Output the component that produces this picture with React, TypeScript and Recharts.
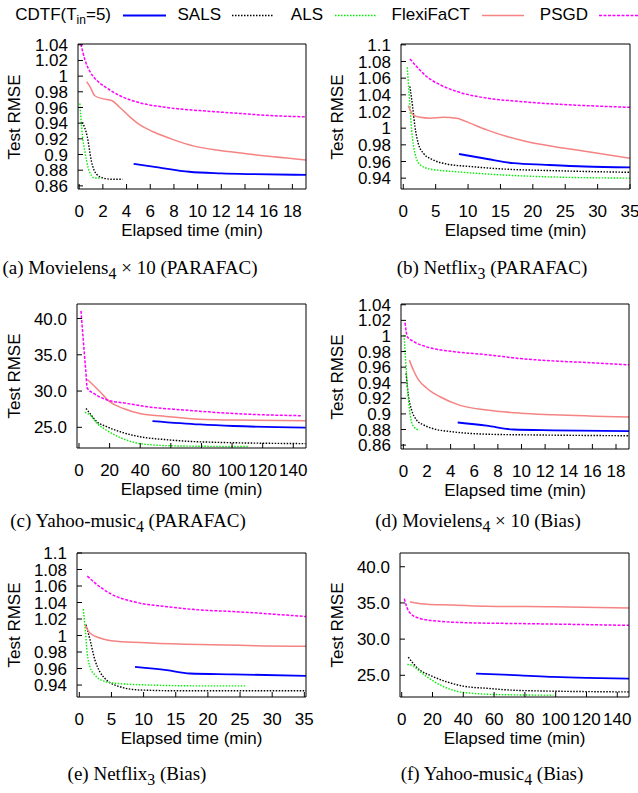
import React from "react";
import { LineChart, Line, XAxis, YAxis } from "recharts";

const FONT = '"Liberation Sans", Arial, sans-serif';
const SERIF = '"Liberation Serif", "Times New Roman", serif';

const seriesNames = ["CDTF(T_in=5)", "SALS", "ALS", "FlexiFaCT", "PSGD"];

// tick values
const rmseTicksSmall = [0.86, 0.88, 0.9, 0.92, 0.94, 0.96, 0.98, 1, 1.02, 1.04];
const rmseTicksNetflix = [0.94, 0.96, 0.98, 1, 1.02, 1.04, 1.06, 1.08, 1.1];
const rmseTicksYahoo = [25, 30, 35, 40];
const minTicks18 = [0, 2, 4, 6, 8, 10, 12, 14, 16, 18];
const minTicks35 = [0, 5, 10, 15, 20, 25, 30, 35];
const minTicks140 = [0, 20, 40, 60, 80, 100, 120, 140];

// (a) Movielens4 x 10 (PARAFAC)  [minutes, rmse]
const mlParCdtf = [[4.6, 0.888], [6.5, 0.884], [9.3, 0.878], [12, 0.876], [14.5, 0.875], [19.2, 0.874]];
const mlParSals = [[0.28, 0.941], [0.68, 0.923], [1.04, 0.891], [1.46, 0.875], [2.03, 0.87], [2.73, 0.8685], [3.66, 0.8685]];
const mlParAls = [[0.06, 0.965], [0.14, 0.948], [0.28, 0.923], [0.48, 0.904], [0.76, 0.883], [1.04, 0.873], [1.3, 0.87], [1.75, 0.87]];
const mlParFlexi = [[0.62, 0.993], [0.9, 0.987], [1.32, 0.975], [2.03, 0.971], [2.73, 0.969], [3.44, 0.96], [4.28, 0.948], [5.1, 0.938], [6.25, 0.929], [7.94, 0.919], [9.63, 0.911], [11.9, 0.905], [14.1, 0.901], [16.4, 0.897], [19.2, 0.893]];
const mlParPsgd = [[0.14, 1.041], [0.48, 1.021], [0.9, 1.006], [1.46, 0.995], [2.31, 0.985], [3.44, 0.975], [5.13, 0.966], [7.38, 0.96], [10.2, 0.956], [13, 0.953], [15.8, 0.95], [19.2, 0.948]];

// (b) Netflix3 (PARAFAC)
const nfParCdtf = [[8.6, 0.969], [13, 0.963], [17, 0.958], [22, 0.956], [28, 0.954], [35, 0.953]];
const nfParSals = [[1.03, 1.05], [1.44, 1.026], [1.8, 1.002], [2.3, 0.982], [3.1, 0.97], [4.6, 0.962], [6.7, 0.957], [10.3, 0.954], [15.4, 0.951], [23.2, 0.949], [35, 0.947]];
const nfParAls = [[0.62, 1.073], [0.93, 1.038], [1.29, 0.998], [1.8, 0.97], [2.6, 0.956], [4.1, 0.951], [7.7, 0.948], [12.9, 0.945], [20.6, 0.942], [35, 0.94]];
const nfParFlexi = [[0.77, 1.027], [1.54, 1.016], [2.6, 1.013], [4.1, 1.012], [6.2, 1.013], [8.2, 1.012], [10.3, 1.006], [12.9, 0.998], [16, 0.99], [19, 0.984], [23.2, 0.978], [28.3, 0.972], [35, 0.964]];
const nfParPsgd = [[1.03, 1.083], [2.06, 1.074], [3.6, 1.062], [5.7, 1.052], [8.7, 1.043], [12.9, 1.036], [18, 1.032], [23.2, 1.029], [28.3, 1.027], [35, 1.025]];

// (c) Yahoo-music4 (PARAFAC)
const ymParCdtf = [[48, 25.87], [79, 25.4], [101, 25.18], [148, 24.95]];
const ymParSals = [[4.6, 27.6], [7.2, 26.9], [11.5, 25.8], [18, 25.1], [26.8, 24.4], [39.8, 23.7], [57, 23.3], [79, 23.0], [148, 22.75]];
const ymParAls = [[3.9, 27.06], [7.2, 26.7], [11.5, 25.6], [18, 24.6], [26.8, 23.6], [35.5, 22.95], [46.4, 22.6], [68, 22.42], [111, 22.35]];
const ymParFlexi = [[5.4, 31.6], [9.4, 30.8], [13.7, 29.9], [20.2, 28.5], [29, 27.6], [39.8, 26.9], [57, 26.5], [79, 26.1], [101, 26.0], [148, 25.9]];
const ymParPsgd = [[1.3, 41.05], [2.8, 37], [4.4, 32.9], [5.4, 30.4], [9.4, 29.7], [18, 28.8], [31, 28.3], [46, 27.8], [68, 27.4], [101, 26.9], [145, 26.6]];

// (d) Movielens4 x 10 (Bias)
const mlBiasCdtf = [[4.6, 0.889], [7.05, 0.885], [9.3, 0.88], [12.7, 0.879], [19.1, 0.878]];
const mlBiasSals = [[0.23, 0.952], [0.42, 0.924], [0.7, 0.905], [1.13, 0.892], [1.7, 0.886], [2.54, 0.881], [4.2, 0.877], [7, 0.874], [11.3, 0.873], [19.1, 0.872]];
const mlBiasAls = [[0.06, 1.001], [0.17, 0.974], [0.34, 0.935], [0.56, 0.901], [0.85, 0.884], [1.35, 0.879]];
const mlBiasFlexi = [[0.51, 0.969], [0.85, 0.956], [1.27, 0.944], [1.98, 0.933], [3.1, 0.922], [4.8, 0.911], [7.05, 0.905], [9.9, 0.901], [12.7, 0.899], [19.1, 0.896]];
const mlBiasPsgd = [[0.14, 1.017], [0.34, 0.999], [0.85, 0.993], [1.98, 0.986], [4.2, 0.98], [7.05, 0.976], [9.9, 0.971], [12.7, 0.968], [15.5, 0.966], [19.1, 0.963]];

// (e) Netflix3 (Bias)
const nfBiasCdtf = [[8.66, 0.962], [13.6, 0.958], [17.2, 0.954], [24, 0.953], [35.25, 0.951]];
const nfBiasSals = [[1.04, 1.013], [1.66, 0.995], [2.44, 0.97], [3.2, 0.956], [4.25, 0.946], [6.3, 0.938], [9.4, 0.934], [16.2, 0.933], [35.25, 0.933]];
const nfBiasAls = [[0.62, 1.032], [0.93, 1.007], [1.24, 0.978], [1.66, 0.962], [2.44, 0.952], [3.73, 0.945], [5.8, 0.942], [11, 0.94], [18.8, 0.939], [25.8, 0.939]];
const nfBiasFlexi = [[0.88, 1.013], [1.66, 1.003], [3.2, 0.997], [5.8, 0.993], [11, 0.991], [18.8, 0.989], [35.25, 0.987]];
const nfBiasPsgd = [[1.24, 1.072], [2.7, 1.062], [4.77, 1.051], [8.4, 1.041], [13.6, 1.035], [18.8, 1.031], [24, 1.029], [35.25, 1.023]];

// (f) Yahoo-music4 (Bias)
const ymBiasCdtf = [[48.3, 25.23], [76.8, 25.0], [98.5, 24.77], [120, 24.63], [147.8, 24.54]];
const ymBiasSals = [[4.3, 27.5], [7.6, 26.6], [11.9, 25.7], [18.4, 25.0], [29.2, 24.1], [40, 23.5], [55.2, 23.2], [76.8, 22.9], [147.8, 22.7]];
const ymBiasAls = [[3.7, 26.5], [6.5, 26.4], [11.9, 25.5], [18.4, 24.5], [27, 23.45], [35.7, 22.8], [46.5, 22.5], [66, 22.32], [98.5, 22.25]];
const ymBiasFlexi = [[5.4, 35.15], [11.9, 34.9], [33.5, 34.7], [55.2, 34.55], [98.5, 34.46], [147.8, 34.3]];
const ymBiasPsgd = [[1.7, 35.6], [3.2, 34.5], [5.4, 33.6], [11.9, 32.85], [22.7, 32.5], [44.4, 32.25], [76.8, 32.15], [147.8, 31.9]];

const lineStyles = [
  { color: "#0000ff", dash: undefined, width: 1.8 },
  { color: "#000000", dash: "1.5 1.5", width: 1.4 },
  { color: "#00ee00", dash: "1.5 1.5", width: 1.4 },
  { color: "#f58383", dash: undefined, width: 1.5 },
  { color: "#ff00ff", dash: "3 1.5", width: 1.5 },
];

const toPts = (arr: number[][]) => arr.map(([x, y]) => ({ x, y }));
const fmtSmall = (v: number) => String(Number(v.toFixed(2)));
const fmtYahoo = (v: number) => v.toFixed(1);

type Box = { L: number; R: number; T: number; B: number };
type PanelDef = {
  side: "left" | "right";
  box: Box;
  xDomain: [number, number];
  yDomain: [number, number];
  xTicks: number[];
  yTicks: number[];
  yFmt: (v: number) => string;
  series: number[][][];
};

const panels: PanelDef[] = [
  { side: "left", box: { L: 78, R: 306, T: 44, B: 189 }, xDomain: [-0.1, 19.15], yDomain: [0.856, 1.041], xTicks: minTicks18, yTicks: rmseTicksSmall, yFmt: fmtSmall, series: [mlParCdtf, mlParSals, mlParAls, mlParFlexi, mlParPsgd] },
  { side: "right", box: { L: 401, R: 630, T: 44, B: 189 }, xDomain: [-0.35, 35], yDomain: [0.927, 1.101], xTicks: minTicks35, yTicks: rmseTicksNetflix, yFmt: fmtSmall, series: [nfParCdtf, nfParSals, nfParAls, nfParFlexi, nfParPsgd] },
  { side: "left", box: { L: 77, R: 306, T: 304, B: 448 }, xDomain: [-1.3, 148.3], yDomain: [22.15, 42], xTicks: minTicks140, yTicks: rmseTicksYahoo, yFmt: fmtYahoo, series: [ymParCdtf, ymParSals, ymParAls, ymParFlexi, ymParPsgd] },
  { side: "right", box: { L: 401, R: 629, T: 304, B: 449 }, xDomain: [-0.2, 19.1], yDomain: [0.855, 1.041], xTicks: minTicks18, yTicks: rmseTicksSmall, yFmt: fmtSmall, series: [mlBiasCdtf, mlBiasSals, mlBiasAls, mlBiasFlexi, mlBiasPsgd] },
  { side: "left", box: { L: 77, R: 306, T: 553, B: 697 }, xDomain: [-0.36, 35.26], yDomain: [0.9255, 1.1], xTicks: minTicks35, yTicks: rmseTicksNetflix, yFmt: fmtSmall, series: [nfBiasCdtf, nfBiasSals, nfBiasAls, nfBiasFlexi, nfBiasPsgd] },
  { side: "right", box: { L: 400, R: 629, T: 553, B: 697 }, xDomain: [-1.1, 147.6], yDomain: [22, 41.9], xTicks: minTicks140, yTicks: rmseTicksYahoo, yFmt: fmtYahoo, series: [ymBiasCdtf, ymBiasSals, ymBiasAls, ymBiasFlexi, ymBiasPsgd] },
];

const captions = [
  { x: 130, y: 268, content: <>(a) Movielens<sub>4</sub> × 10 (PARAFAC)</> },
  { x: 492, y: 268, content: <>(b) Netflix<sub>3</sub> (PARAFAC)</> },
  { x: 128, y: 521, content: <>(c) Yahoo-music<sub>4</sub> (PARAFAC)</> },
  { x: 478, y: 521, content: <>(d) Movielens<sub>4</sub> × 10 (Bias)</> },
  { x: 137, y: 774, content: <>(e) Netflix<sub>3</sub> (Bias)</> },
  { x: 492, y: 774, content: <>(f) Yahoo-music<sub>4</sub> (Bias)</> },
];

const tickStyle = { fill: "#000", fontSize: 17, fontFamily: FONT };

function Panel({ p }: { p: PanelDef }) {
  const chartLeft = p.side === "left" ? 0 : 320;
  const chartW = p.side === "left" ? 320 : 318;
  const chartTop = p.box.T - 14;
  const chartH = p.box.B - chartTop + 32;
  const yAxisW = p.box.L - chartLeft;
  const rightM = chartLeft + chartW - p.box.R - 1;
  const xAxisH = chartH - 14 - (p.box.B - p.box.T);
  return (
    <>
      <div style={{ position: "absolute", left: chartLeft, top: chartTop }}>
        <LineChart width={chartW} height={chartH} margin={{ top: 13, right: rightM, bottom: 0, left: 0 }}>
          <XAxis
            type="number"
            dataKey="x"
            domain={p.xDomain}
            ticks={p.xTicks}
            interval={0}
            allowDataOverflow
            height={xAxisH}
            stroke="#000"
            tickSize={-5}
            tickMargin={21}
            tick={tickStyle}
          />
          <XAxis
            xAxisId="top"
            orientation="top"
            type="number"
            dataKey="x"
            domain={p.xDomain}
            ticks={p.xTicks}
            interval={0}
            allowDataOverflow
            height={1}
            stroke="#000"
            tickSize={-5}
            tick={false}
          />
          <YAxis
            type="number"
            domain={p.yDomain}
            ticks={p.yTicks}
            interval={0}
            allowDataOverflow
            width={yAxisW}
            stroke="#000"
            tickSize={-5}
            tickMargin={15}
            tick={tickStyle}
            tickFormatter={p.yFmt}
          />
          <YAxis
            yAxisId="right"
            orientation="right"
            type="number"
            domain={p.yDomain}
            ticks={p.yTicks}
            interval={0}
            allowDataOverflow
            width={1}
            stroke="#000"
            tickSize={-5}
            tick={false}
          />
          {p.series.map((s, i) => (
            <Line
              key={seriesNames[i]}
              name={seriesNames[i]}
              data={toPts(s)}
              dataKey="y"
              type="monotone"
              stroke={lineStyles[i].color}
              strokeWidth={lineStyles[i].width}
              strokeDasharray={lineStyles[i].dash}
              dot={false}
              isAnimationActive={false}
            />
          ))}
        </LineChart>
      </div>
      <div
        style={{
          position: "absolute",
          left: (p.box.L + p.box.R) / 2 - 120,
          width: 240,
          top: p.box.B + 32,
          textAlign: "center",
          fontFamily: FONT,
          fontSize: 17,
          lineHeight: "20px",
        }}
      >
        Elapsed time (min)
      </div>
      <div
        style={{
          position: "absolute",
          left: (p.side === "left" ? 15 : 338) - 60,
          width: 120,
          top: (p.box.T + p.box.B) / 2 - 10,
          textAlign: "center",
          fontFamily: FONT,
          fontSize: 17,
          lineHeight: "20px",
          transform: "rotate(-90deg)",
        }}
      >
        Test RMSE
      </div>
    </>
  );
}

const legendItems = [
  { label: <>CDTF(T<sub style={{ fontSize: 12 }}>in</sub>=5)</>, textRight: 111, x1: 123, x2: 166 },
  { label: <>SALS</>, textRight: 221, x1: 232, x2: 273 },
  { label: <>ALS</>, textRight: 323, x1: 335, x2: 377 },
  { label: <>FlexiFaCT</>, textRight: 470, x1: 482, x2: 524 },
  { label: <>PSGD</>, textRight: 588, x1: 599, x2: 640 },
];

export default function App() {
  return (
    <div style={{ position: "absolute", left: 0, top: 0, width: 638, height: 793, background: "#fff", overflow: "hidden" }}>
      {legendItems.map((it, i) => (
        <div
          key={i}
          style={{
            position: "absolute",
            left: it.textRight - 150,
            width: 150,
            top: 5,
            textAlign: "right",
            fontFamily: FONT,
            fontSize: 17,
            lineHeight: "20px",
            whiteSpace: "nowrap",
          }}
        >
          {it.label}
        </div>
      ))}
      <svg width={638} height={30} style={{ position: "absolute", left: 0, top: 0 }}>
        {legendItems.map((it, i) => (
          <line
            key={i}
            x1={it.x1}
            x2={it.x2}
            y1={15.5}
            y2={15.5}
            stroke={lineStyles[i].color}
            strokeWidth={lineStyles[i].width}
            strokeDasharray={lineStyles[i].dash}
          />
        ))}
      </svg>
      {panels.map((p, i) => (
        <Panel key={i} p={p} />
      ))}
      {captions.map((c, i) => (
        <div
          key={i}
          style={{
            position: "absolute",
            left: c.x - 160,
            width: 320,
            top: c.y - 12,
            textAlign: "center",
            fontFamily: SERIF,
            fontSize: 19,
            lineHeight: "24px",
            whiteSpace: "nowrap",
          }}
        >
          {c.content}
        </div>
      ))}
    </div>
  );
}
